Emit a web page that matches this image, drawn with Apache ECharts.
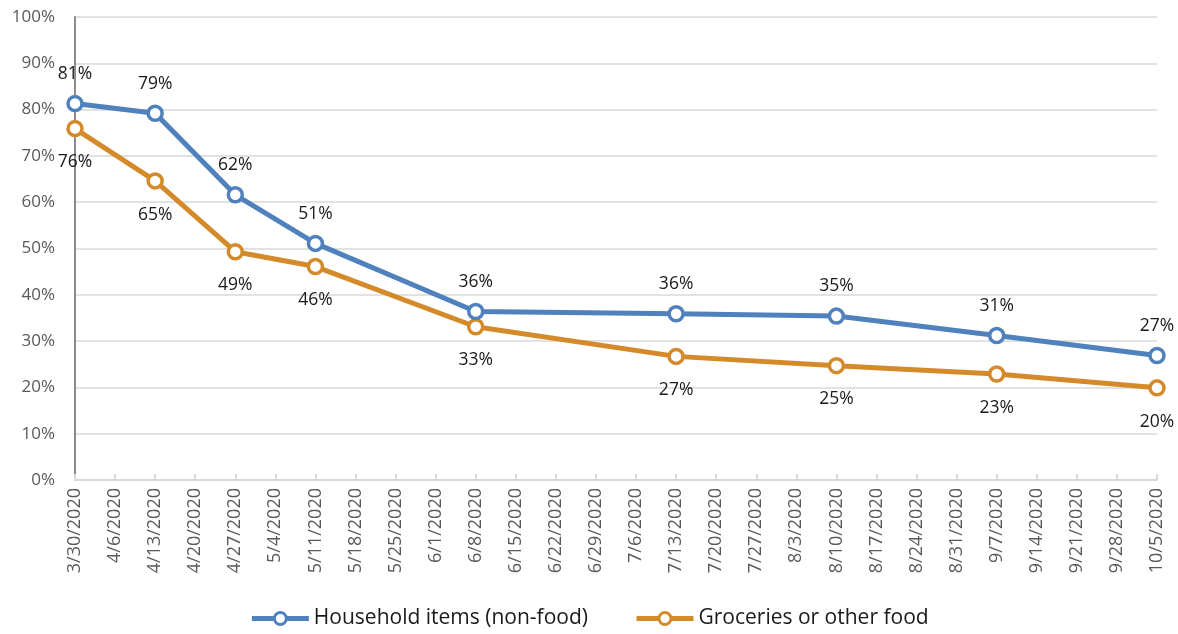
<!DOCTYPE html>
<html>
<head>
<meta charset="utf-8">
<script src="https://cdn.jsdelivr.net/npm/echarts@6/dist/echarts.min.js"></script>
<style>
html,body{margin:0;padding:0;background:#fff;}
#chart{width:1178px;height:634px;}
</style>
</head>
<body>
<div id="chart"></div>
<script>
const weeks = ['3/30/2020','4/6/2020','4/13/2020','4/20/2020','4/27/2020','5/4/2020','5/11/2020','5/18/2020','5/25/2020','6/1/2020','6/8/2020','6/15/2020','6/22/2020','6/29/2020','7/6/2020','7/13/2020','7/20/2020','7/27/2020','8/3/2020','8/10/2020','8/17/2020','8/24/2020','8/31/2020','9/7/2020','9/14/2020','9/21/2020','9/28/2020','10/5/2020'];
const surveyDates = ['3/30/2020','4/13/2020','4/27/2020','5/11/2020','6/8/2020','7/13/2020','8/10/2020','9/7/2020','10/5/2020'];
const household = [81.3, 79.2, 61.6, 51.1, 36.4, 35.9, 35.4, 31.2, 26.9];
const groceries = [75.9, 64.6, 49.3, 46.1, 33.1, 26.7, 24.7, 22.9, 19.9];
const seriesNames = ['Household items (non-food)', 'Groceries or other food'];

function toSeriesData(vals){
  return surveyDates.map((d,i)=>[d, vals[i]]);
}

const FONT = '"Open Sans", sans-serif';
const BLUE = '#4F81BD', ORANGE = '#D58A2A';
const chart = echarts.init(document.getElementById('chart'));
chart.setOption({
  animation: false,
  textStyle: {fontFamily: FONT},
  grid: {left: 75, right: 21, top: 17, bottom: 154, containLabel: false},
  legend: {
    bottom: 0, left: 'center',
    itemWidth: 57, itemHeight: 15, itemGap: 46,
    lineStyle: {width: 5},
    itemStyle: {borderWidth: 3},
    textStyle: {fontSize: 21, color: '#1a1a1a', fontFamily: FONT},
    data: seriesNames
  },
  xAxis: {
    type: 'category',
    data: weeks,
    boundaryGap: false,
    axisLine: {lineStyle: {color: '#d9d9d9', width: 2}},
    axisTick: {inside: true, length: 6, lineStyle: {color: '#d9d9d9', width: 2}},
    axisLabel: {rotate: 90, interval: 0, fontSize: 18, color: '#595959', margin: 8, fontFamily: FONT},
    splitLine: {show: false}
  },
  yAxis: {
    type: 'value', min: 0, max: 100, interval: 10,
    axisLine: {show: true, lineStyle: {color: '#8c8c8c', width: 2}},
    axisTick: {show: false},
    axisLabel: {formatter: '{value}%', fontSize: 17, color: '#595959', margin: 20, fontFamily: FONT},
    splitLine: {lineStyle: {color: '#d9d9d9', width: 1.5}}
  },
  series: [
    {
      name: seriesNames[0], type: 'line', data: toSeriesData(household),
      color: BLUE,
      lineStyle: {width: 5, color: BLUE},
      symbol: 'circle', symbolSize: 14,
      itemStyle: {color: '#fff', borderColor: BLUE, borderWidth: 3.5},
      label: {show: true, position: 'top', distance: 12, fontSize: 17.5, color: '#1a1a1a',
        formatter: p => Math.round(p.value[1]) + '%', fontFamily: FONT},
      z: 3
    },
    {
      name: seriesNames[1], type: 'line', data: toSeriesData(groceries),
      color: ORANGE,
      lineStyle: {width: 5, color: ORANGE},
      symbol: 'circle', symbolSize: 14,
      itemStyle: {color: '#fff', borderColor: ORANGE, borderWidth: 3.5},
      label: {show: true, position: 'bottom', distance: 16, fontSize: 17.5, color: '#1a1a1a',
        formatter: p => Math.round(p.value[1]) + '%', fontFamily: FONT},
      z: 2
    }
  ]
});
</script>
</body>
</html>
